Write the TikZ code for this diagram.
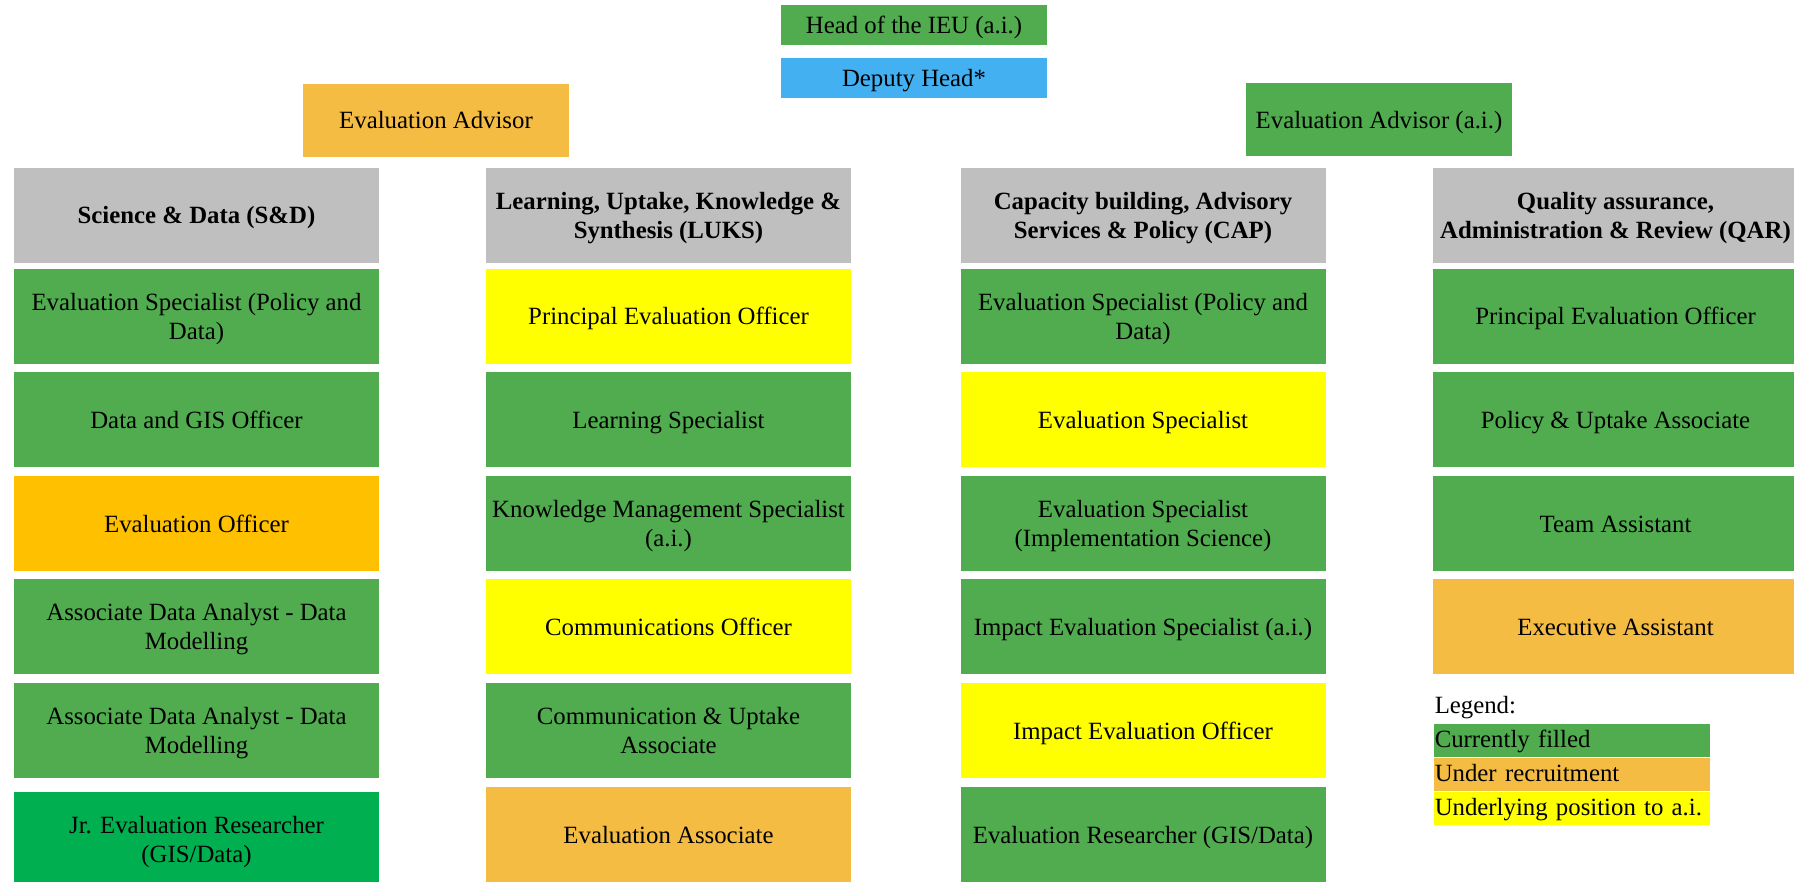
\documentclass[tikz,border=0pt]{standalone}
\usepackage{fontspec}
\setmainfont{Liberation Serif}
\usetikzlibrary{positioning}

\definecolor{filled}{RGB}{80,172,79}
\definecolor{recruit}{RGB}{245,188,68}
\definecolor{gold}{RGB}{255,192,0}
\definecolor{underlying}{RGB}{255,255,0}
\definecolor{unitgrey}{RGB}{191,191,191}
\definecolor{deputyblue}{RGB}{67,176,241}
\definecolor{jrgreen}{RGB}{0,176,80}

\tikzset{every picture/.style={line width=0.75pt}}
\tikzset{
  cellstrut/.style={execute at begin node={\rule{0pt}{11.45pt}},
    execute at end node={\rule[-2.75pt]{0pt}{2.75pt}}},
  twoline/.style={execute at begin node={}, execute at end node={},
    text height=25.65pt, text depth=2.75pt},
  posbox/.style={inner sep=0pt, minimum width=182.5pt, minimum height=47.35pt, align=center,
    cellstrut, font=\fontsize{12.4}{14.2}\selectfont},
  unitbox/.style={posbox, fill=unitgrey, font=\bfseries\fontsize{12.4}{14.2}\selectfont},
  topbox/.style={inner sep=0pt, minimum width=133pt, minimum height=20pt, align=center,
    cellstrut, font=\fontsize{12.4}{14.2}\selectfont},
  advbox/.style={topbox, minimum height=36.35pt},
  keybox/.style={inner xsep=0.5pt, inner ysep=0pt, text width=137pt, minimum height=16.4pt,
    align=left, execute at begin node={\rule{0pt}{10.5pt}},
    execute at end node={\rule[-3.3pt]{0pt}{3.3pt}}, font=\fontsize{12.4}{14.2}\selectfont}
}

\begin{document}
\begin{tikzpicture}[x=0.5pt,y=0.5pt,yscale=-1,xscale=1]
\clip (0,0) rectangle (1794,882);

%Shape: Rectangle [head]
\draw (914,24.6) node [topbox, fill=filled] (head) {Head of the IEU (a.i.)};
%Shape: Rectangle [deputy]
\draw (914,78.3) node [topbox, fill=deputyblue] (deputy) {Deputy Head*};
%Shape: Rectangle [left advisor]
\draw (436,120.3) node [advbox, fill=recruit] (advL) {Evaluation Advisor};
%Shape: Rectangle [right advisor]
\draw (1379,119.5) node [advbox, fill=filled] (advR) {Evaluation Advisor (a.i.)};

% Unit headers
\draw (196.5,215.3) node [unitbox] (sd) {Science \& Data (S\&D)};
\draw (668.5,215.3) node [unitbox, twoline] (luks) {Learning, Uptake, Knowledge \&\\Synthesis (LUKS)};
\draw (1143,215.3) node [unitbox, twoline] (cap) {Capacity building, Advisory\\Services \& Policy (CAP)};
\draw (1615.5,215.3) node [unitbox, twoline] (qar) {Quality assurance,\\Administration \& Review (QAR)};

% Science & Data column
\draw (196.5,316.3) node [posbox, twoline, fill=filled] (sd1) {Evaluation Specialist (Policy and\\Data)};
\draw (196.5,419.3) node [posbox, fill=filled] (sd2) {Data and GIS Officer};
\draw (196.5,523.3) node [posbox, fill=gold] (sd3) {Evaluation Officer};
\draw (196.5,626.3) node [posbox, twoline, fill=filled] (sd4) {Associate Data Analyst - Data\\Modelling};
\draw (196.5,730.3) node [posbox, twoline, fill=filled] (sd5) {Associate Data Analyst - Data\\Modelling};
\draw (196.5,839.3) node [posbox, twoline, fill=jrgreen] (sd6) {Jr. Evaluation Researcher\\(GIS/Data)};

% LUKS column
\draw (668.5,316.3) node [posbox, fill=underlying] (luks1) {Principal Evaluation Officer};
\draw (668.5,419.3) node [posbox, fill=filled] (luks2) {Learning Specialist};
\draw (668.5,523.3) node [posbox, twoline, fill=filled] (luks3) {Knowledge Management Specialist\\(a.i.)};
\draw (668.5,626.3) node [posbox, fill=underlying] (luks4) {Communications Officer};
\draw (668.5,730.3) node [posbox, twoline, fill=filled] (luks5) {Communication \& Uptake\\Associate};
\draw (668.5,834.3) node [posbox, fill=recruit] (luks6) {Evaluation Associate};

% CAP column
\draw (1143,316.3) node [posbox, twoline, fill=filled] (cap1) {Evaluation Specialist (Policy and\\Data)};
\draw (1143,419.3) node [posbox, fill=underlying] (cap2) {Evaluation Specialist};
\draw (1143,523.3) node [posbox, twoline, fill=filled] (cap3) {Evaluation Specialist\\(Implementation Science)};
\draw (1143,626.3) node [posbox, fill=filled] (cap4) {Impact Evaluation Specialist (a.i.)};
\draw (1143,730.3) node [posbox, fill=underlying] (cap5) {Impact Evaluation Officer};
\draw (1143,834.3) node [posbox, fill=filled] (cap6) {Evaluation Researcher (GIS/Data)};

% QAR column
\draw (1615.5,316.3) node [posbox, fill=filled] (qar1) {Principal Evaluation Officer};
\draw (1615.5,419.3) node [posbox, fill=filled] (qar2) {Policy \& Uptake Associate};
\draw (1615.5,523.3) node [posbox, fill=filled] (qar3) {Team Assistant};
\draw (1615.5,626.3) node [posbox, fill=recruit] (qar4) {Executive Assistant};

% Legend
\draw (1433,713) node [anchor=base west, inner sep=0.5pt, font=\fontsize{12.4}{14.2}\selectfont] (legtitle) {Legend:};
\draw (1433,723) node [keybox, anchor=north west, fill=filled] (keyfill) {Currently filled};
\node [keybox, fill=recruit, below=0pt of keyfill] (keyrec) {Under recruitment};
\node [keybox, fill=underlying, below=0pt of keyrec] (keyai) {Underlying position to a.i.};

\end{tikzpicture}
\end{document}
